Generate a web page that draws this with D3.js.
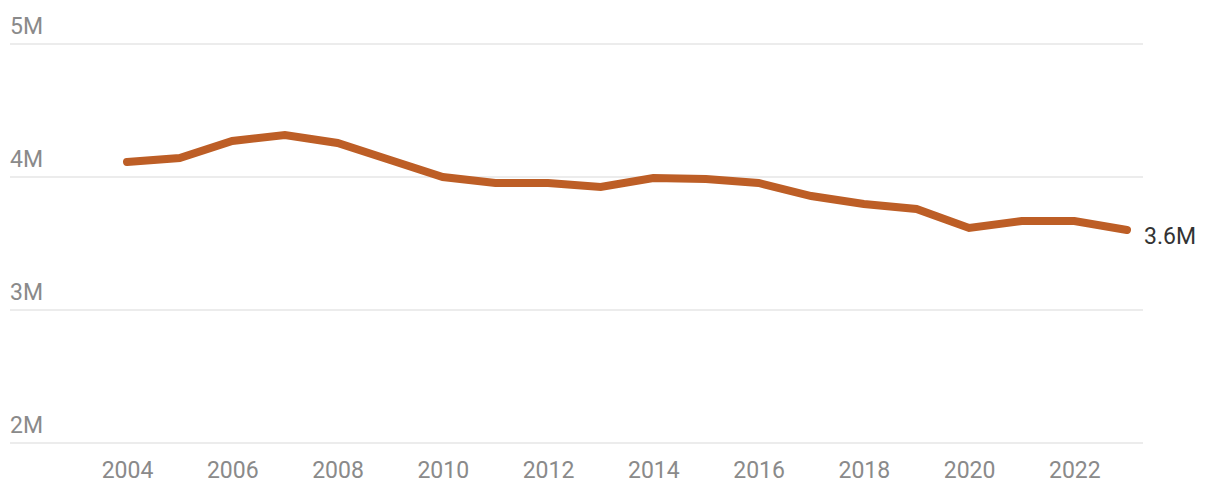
<!DOCTYPE html>
<html>
<head>
<meta charset="utf-8">
<script src="https://cdn.jsdelivr.net/npm/d3@7"></script>
<style>
  html, body { margin: 0; padding: 0; background: #fff; }
  svg { display: block; font-family: Roboto, "Liberation Sans", sans-serif; }
</style>
</head>
<body>
<svg id="chart" width="1220" height="500"></svg>
<script>
const years = [2004,2005,2006,2007,2008,2009,2010,2011,2012,2013,2014,2015,2016,2017,2018,2019,2020,2021,2022,2023];
const values = [4.113,4.143,4.271,4.316,4.256,4.128,4.00,3.955,3.955,3.925,3.992,3.985,3.955,3.857,3.797,3.759,3.617,3.669,3.669,3.602];
const yTicks = [2,3,4,5];
const xTicks = [2004,2006,2008,2010,2012,2014,2016,2018,2020,2022];
const endLabel = "3.6M";

const svg = d3.select("#chart");
const x = d3.scaleLinear().domain([2004, 2023]).range([127, 1127]);
const y = d3.scaleLinear().domain([2, 5]).range([443, 44]);
const gridX0 = 10, gridX1 = 1143;

// gridlines
svg.append("g").selectAll("line").data(yTicks).join("line")
  .attr("x1", gridX0).attr("x2", gridX1)
  .attr("y1", d => y(d)).attr("y2", d => y(d))
  .attr("stroke", "#e6e6e6").attr("stroke-width", 1.5);

// y labels
svg.append("g").selectAll("text").data(yTicks).join("text")
  .attr("x", gridX0).attr("y", d => y(d) - 10)
  .attr("fill", "#8a8a8a").attr("font-size", 23)
  .text(d => d + "M");

// x labels
const xAxis = d3.axisBottom(x).tickValues(xTicks).tickFormat(d3.format("d")).tickSize(0).tickPadding(0);
const gx = svg.append("g").attr("transform", "translate(0,462)").call(xAxis);
gx.select(".domain").remove();
gx.selectAll("text").attr("fill", "#8a8a8a").attr("font-size", 23)
  .attr("font-family", "Roboto, sans-serif").attr("dy", "0.71em");

// line
const line = d3.line().x((d, i) => x(years[i])).y(d => y(d));
svg.append("path").datum(values)
  .attr("d", line)
  .attr("fill", "none")
  .attr("stroke", "#bd5e26")
  .attr("stroke-width", 8)
  .attr("stroke-linecap", "round")
  .attr("stroke-linejoin", "miter");

// end label
svg.append("text")
  .attr("x", x(years[years.length - 1]) + 17)
  .attr("y", y(values[values.length - 1]) + 14)
  .attr("fill", "#333").attr("font-size", 23)
  .text(endLabel);
</script>
</body>
</html>
